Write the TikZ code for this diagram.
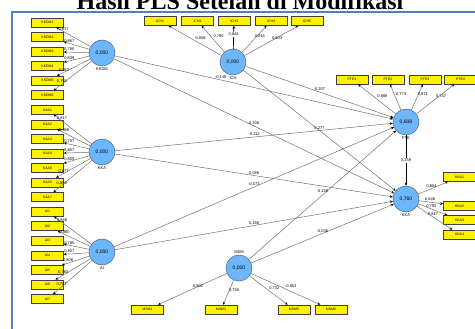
\documentclass[tikz,border=0pt]{standalone}
\usepackage{fontspec}
\setmainfont{Liberation Serif}
\newfontfamily\arialf{Liberation Sans}
\usetikzlibrary{arrows.meta,shadows,positioning}
\definecolor{frameblue}{RGB}{79,129,189}
\definecolor{lvblue}{RGB}{110,182,250}
\definecolor{lvedge}{RGB}{70,100,140}
\definecolor{lineg}{RGB}{115,115,115}
\begin{document}
\begin{tikzpicture}[x=1pt,y=-1pt,
 lv/.style={circle,fill=lvblue,draw=lvedge,line width=0.5pt,minimum size=26pt,inner sep=0pt,font=\arialf\fontsize{5}{5}\selectfont},
 ind/.style={rectangle,fill=yellow,draw=black!75,line width=0.5pt,minimum width=32pt,minimum height=9pt,inner sep=0pt,font=\arialf\fontsize{3.5}{3.5}\selectfont,drop shadow={shadow xshift=0.7pt,shadow yshift=-0.7pt,fill=black,opacity=0.45}},
 lvname/.style={font=\arialf\fontsize{4}{4}\selectfont,inner sep=0.5pt},
 val/.style={font=\arialf\fontsize{4}{4}\selectfont,inner sep=0.4pt},
 conn/.style={draw=lineg,line width=0.5pt,-{Stealth[length=3pt,width=2.6pt,color=black]}},
 connb/.style={draw=black,line width=0.7pt,-{Stealth[length=3pt,width=2.6pt,color=black]}},
]
\useasboundingbox (0,0) rectangle (475,329);
\clip (0,0) rectangle (475,329);
\fill[white] (0,0) rectangle (475,329);
% title and frame
\node[anchor=base,font=\bfseries\fontsize{24}{24}\selectfont,inner sep=0pt] (title) at (240,9.5) {Hasil PLS Setelah di Modifikasi};
\draw[frameblue,line width=2pt] (12,330) -- (12,12.5) -- (476,12.5);

% latent variables
\node[lv] (KKDM) at (102,53) {0,000};
\node[lv] (KKA) at (102,152) {0,000};
\node[lv] (AI) at (102,252) {0,000};
\node[lv] (ICH) at (233,62) {0,000};
\node[lv] (PTE) at (406,122) {0,608};
\node[lv] (KKR) at (406,199) {0,760};
\node[lv] (MSM) at (239,268) {0,000};
\node[lvname,below=0.5pt of KKDM] (nKKDM) {KKDM};
\node[lvname,below=0.5pt of KKA] (nKKA) {KKA};
\node[lvname,below=0.5pt of AI] (nAI) {AI};
\node[lvname,below=0.5pt of ICH] (nICH) {ICH};
\node[lvname,below=0.5pt of PTE] (nPTE) {PTE};
\node[lvname,below=0.5pt of KKR] (nKKR) {KKA};
\node[lvname,above=0.5pt of MSM] (nMSM) {MSM};

% indicators
\foreach \n in {1,...,6} \node[ind] (kkdm\n) at (47.5,{22.5+14.55*(\n-1)}) {KKDM\n};
\foreach \n in {1,...,7} \node[ind] (kaa\n) at (47.5,{22.5+14.55*(\n+5)}) {KAA\n};
\foreach \n in {1,...,7} \node[ind] (ai\n) at (47.5,{22.5+14.55*(\n+12)}) {AI\n};
\foreach \n/\xx in {1/160,2/197.5,3/234,4/271,5/307} \node[ind] (ich\n) at (\xx,21) {ICH\n};
\foreach \n/\xx in {1/352,2/388,3/425,4/460.5} \node[ind] (pte\n) at (\xx,79.5) {PTE\n};
\foreach \n/\yy in {1/177,2/206,3/220,4/234.5} \node[ind] (kkr\n) at (459.5,\yy) {KKA\n};
\foreach \n/\xx/\lab in {1/147.5/MSM1,2/221/MSM3,3/294/MSM5,4/331/MSM6} \node[ind] (msm\n) at (\xx,309.5) {\lab};

% outer loadings
\foreach \n/\v in {1/{0,817},2/{0,867},3/{0,780},4/{0,839},5/{0,862},6/{0,755}}
  \draw[conn] (KKDM) -- node[val,pos=0.78,above] {\v} (kkdm\n);
\foreach \n/\v in {1/{0,817},2/{0,888},3/{0,707},4/{0,807},5/{0,805},6/{0,877},7/{0,859}}
  \draw[conn] (KKA) -- node[val,pos=0.78,above] {\v} (kaa\n);
\foreach \n/\v in {1/{0,848},2/{0,880},3/{0,785},4/{0,807},5/{0,808},6/{0,783},7/{0,787}}
  \draw[conn] (AI) -- node[val,pos=0.78,above] {\v} (ai\n);
\foreach \n/\v in {1/{0,858},2/{0,780},4/{0,814},5/{0,803}}
  \draw[conn] (ICH) -- node[val,pos=0.5,above right=0pt] {\v} (ich\n);
\draw[connb] (ICH) -- node[val,pos=0.62,fill=white] {0,844} (ich3);
\foreach \n/\v in {1/{0,888},2/{0,773},3/{0,871},4/{0,747}}
  \draw[conn] (PTE) -- node[val,pos=0.5,above right=0pt] {\v} (pte\n);
\foreach \n/\v in {1/{0,804},2/{0,846},3/{0,792},4/{0,817}}
  \draw[conn] (KKR) -- node[val,pos=0.45,above=0.3pt] {\v} (kkr\n);
\foreach \n/\v in {1/{0,802},2/{0,758},3/{0,732},4/{0,853}}
  \draw[conn] (MSM) -- node[val,pos=0.5,above right=0pt] {\v} (msm\n);

% structural paths
\draw[conn] (KKDM) -- node[val,pos=0.38,above=0.2pt] {-0,148} (PTE);
\draw[conn] (KKDM) -- node[val,pos=0.5,above=0.2pt] {0,338} (KKR);
\draw[conn] (KKA) -- node[val,pos=0.5,above=0.2pt] {-0,112} (PTE);
\draw[conn] (KKA) -- node[val,pos=0.5,above=0.2pt] {0,088} (KKR);
\draw[conn] (AI) -- node[val,pos=0.5,above=0.2pt] {-0,073} (PTE);
\draw[conn] (AI) -- node[val,pos=0.5,above=0.2pt] {0,180} (KKR);
\draw[conn] (ICH) -- node[val,pos=0.5,above=0.2pt] {-0,207} (PTE);
\draw[conn] (ICH) -- node[val,pos=0.5,above=0.2pt] {0,277} (KKR);
\draw[conn] (MSM) -- node[val,pos=0.5,above=1pt] {-0,159} (PTE);
\draw[conn] (MSM) -- node[val,pos=0.5,above=0.2pt] {-0,036} (KKR);
\draw[connb] (PTE) -- node[val,pos=0.5,fill=white] {0,259} (KKR);
\end{tikzpicture}
\end{document}
